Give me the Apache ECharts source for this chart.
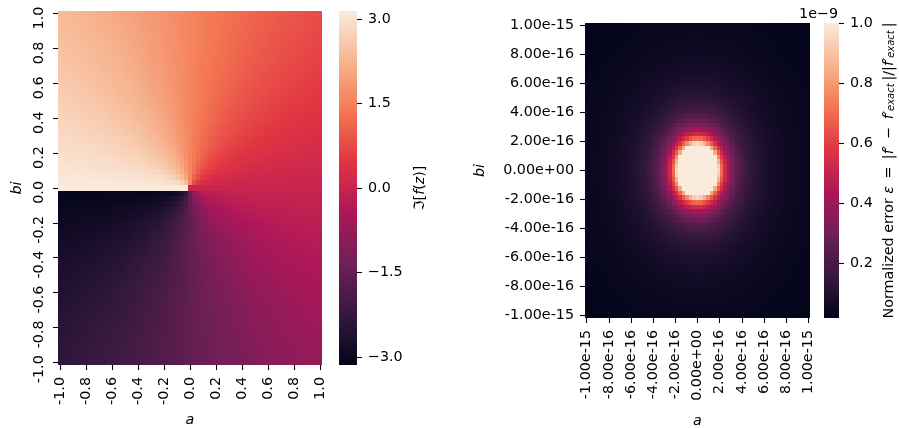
<!DOCTYPE html>
<html><head><meta charset="utf-8">
<script src="https://cdn.jsdelivr.net/npm/echarts@6/dist/echarts.min.js"></script>
<style>html,body{margin:0;padding:0;background:#fff}#c{width:899px;height:428px}</style>
</head><body><div id="c"></div>
<script>
const FONT = '"DejaVu Sans"';
const FS = 14.3;
const ROCKET = ['#03051a','#35193e','#701f57','#ad1759','#e13342','#f37651','#f6b48f','#faebdd'];

// Values, one wedge of cells (row = |b| cell, first entry at |a| = |b|).
// Phase panel, hundredths of a radian.
const PHASE_WEDGE = [
[0,0,0,0,0,0,0,0,0,0,0,0,0,0,0,0,0,0,0,0,0,0,0,0,0,0,0,0,0,0,0,0,0],
[79,46,32,24,20,17,14,12,11,10,9,8,8,7,7,6,6,6,5,5,5,5,4,4,4,4,4,4,3,3,3,3],
[79,59,46,38,32,28,24,22,20,18,17,15,14,13,12,12,11,10,10,9,9,9,8,8,8,7,7,7,7,6,6],
[79,64,54,46,40,36,32,29,27,24,23,21,20,19,17,17,16,15,14,14,13,12,12,11,11,11,10,10,10,9],
[79,67,59,52,46,42,38,35,32,30,28,26,24,23,22,21,20,19,18,17,17,16,15,15,14,14,13,13,12],
[79,69,62,56,51,46,43,39,37,34,32,30,29,27,26,24,23,22,21,21,20,19,18,18,17,17,16,15],
[79,71,64,59,54,50,46,43,41,38,36,34,32,31,29,28,27,26,24,23,23,22,21,20,20,19,19],
[79,72,66,61,57,53,49,46,44,41,39,37,35,34,32,31,30,28,27,26,25,24,24,23,22,22],
[79,73,67,63,59,55,52,49,46,44,42,40,38,36,35,33,32,31,30,29,28,27,26,25,24],
[79,73,69,64,61,57,54,51,49,46,44,42,40,39,37,36,34,33,32,31,30,29,28,27],
[79,74,69,66,62,59,56,53,51,48,46,44,43,41,39,38,37,35,34,33,32,31,30],
[79,74,70,67,63,60,57,55,52,50,48,46,45,43,41,40,39,37,36,35,34,33],
[79,75,71,67,64,62,59,56,54,52,50,48,46,45,43,42,41,39,38,37,36],
[79,75,71,68,65,63,60,58,55,53,51,50,48,46,45,43,42,41,40,39],
[79,75,72,69,66,64,61,59,57,55,53,51,49,48,46,45,44,42,41],
[79,75,72,69,67,64,62,60,58,56,54,52,51,49,48,46,45,44],
[79,76,73,70,67,65,63,61,59,57,55,53,52,50,49,48,46],
[79,76,73,70,68,66,64,62,60,58,56,55,53,52,50,49],
[79,76,73,71,69,66,64,62,61,59,57,56,54,53,51],
[79,76,74,71,69,67,65,63,61,60,58,56,55,54],
[79,76,74,72,69,67,66,64,62,60,59,57,56],
[79,76,74,72,70,68,66,64,63,61,60,58],
[79,76,74,72,70,68,67,65,63,62,60],
[79,76,74,72,71,69,67,65,64,62],
[79,76,75,73,71,69,67,66,64],
[79,77,75,73,71,69,68,66],
[79,77,75,73,71,70,68],
[79,77,75,73,72,70],
[79,77,75,73,72],
[79,77,75,74],
[79,77,75],
[79,77],
[79]];
// Error panel, thousandths of 1e-9 (saturated cells held at 1000).
const ERROR_WEDGE = [
[1000,1000,1000,1000,1000,1000,950,698,534,422,342,283,238,202,174,152,134,118,106,95,86,78,71,65,59,55,51,47,44,41,38,36,33],
[1000,1000,1000,1000,1000,924,684,526,417,339,280,236,201,174,151,133,118,105,94,85,77,71,65,59,55,51,47,44,41,38,36,33],
[1000,1000,1000,1000,855,645,503,402,329,274,231,198,171,149,132,117,104,94,85,77,70,64,59,54,50,47,43,40,38,35,33],
[1000,1000,1000,760,590,468,380,314,263,224,192,167,146,129,115,103,92,84,76,69,64,58,54,50,46,43,40,38,35,33],
[1000,834,658,526,428,353,295,250,214,185,161,142,126,112,101,91,82,75,68,63,58,53,49,46,43,40,37,35,33],
[684,561,462,384,323,274,234,202,176,155,137,122,109,98,89,80,73,67,62,57,53,49,45,42,39,37,35,33],
[475,402,342,292,251,218,190,167,147,131,117,105,95,86,78,72,66,61,56,52,48,45,42,39,37,34,32],
[349,303,263,230,201,177,157,140,125,112,101,92,83,76,70,64,59,55,51,47,44,41,38,36,34,32],
[267,236,209,185,164,147,132,118,107,97,88,80,74,68,62,58,53,50,46,43,40,38,35,33,31],
[211,189,169,152,137,123,112,101,92,84,77,71,66,61,56,52,48,45,42,40,37,35,33,31],
[171,155,140,127,116,105,96,88,81,74,68,63,59,54,51,47,44,41,39,36,34,32,30],
[141,129,118,108,99,91,83,77,71,66,61,57,53,49,46,43,40,38,36,33,32,30],
[119,109,101,93,86,79,73,68,63,58,54,51,48,44,42,39,37,35,33,31,29],
[101,94,87,80,75,69,65,60,56,52,49,46,43,40,38,36,34,32,30,29],
[87,81,76,71,66,61,57,54,50,47,44,42,39,37,35,33,31,30,28],
[76,71,67,62,58,55,51,48,45,43,40,38,36,34,32,30,29,27],
[67,63,59,55,52,49,46,44,41,39,37,35,33,31,30,28,27],
[59,56,53,50,47,44,42,40,37,35,34,32,30,29,27,26],
[53,50,47,45,42,40,38,36,34,32,31,29,28,27,25],
[47,45,43,40,38,36,35,33,31,30,28,27,26,25],
[43,41,39,37,35,33,32,30,29,28,26,25,24],
[39,37,35,34,32,31,29,28,27,26,24,23],
[35,34,32,31,29,28,27,26,25,24,23],
[32,31,30,28,27,26,25,24,23,22],
[30,28,27,26,25,24,23,22,21],
[27,26,25,24,23,22,22,21],
[25,24,23,23,22,21,20],
[23,23,22,21,20,20],
[22,21,20,20,19],
[20,20,19,18],
[19,18,18],
[18,17],
[17]];

const CELLS_PER_SIDE = 32;
const LEFT_TICKS = [-1,-0.8,-0.6,-0.4,-0.2,0,0.2,0.4,0.6,0.8,1];
const LEFT_TICK_LABELS = ['-1.0','-0.8','-0.6','-0.4','-0.2','0.0','0.2','0.4','0.6','0.8','1.0'];
const RIGHT_TICK_LABELS = ['-1.00e-15','-8.00e-16','-6.00e-16','-4.00e-16','-2.00e-16','0.00e+00','2.00e-16','4.00e-16','6.00e-16','8.00e-16','1.00e-15'];
const CB_LEFT_TICKS = [-3,-1.5,0,1.5,3];
const CB_LEFT_LABELS = ['\u22123.0','\u22121.5','0.0','1.5','3.0'];
const CB_RIGHT_TICKS = [0.2,0.4,0.6,0.8,1];
const CB_RIGHT_LABELS = ['0.2','0.4','0.6','0.8','1.0'];
const PHASE_RANGE = [-3.1416, 3.1416];
const ERROR_RANGE = [0.0167, 1];

function wedge(t, a, b) { const lo = Math.min(a, b), hi = Math.max(a, b); return t[lo][hi - lo]; }
function phaseAt(c, r) {
  const a = Math.abs(c), b = Math.abs(r);
  const th = a >= b ? wedge(PHASE_WEDGE, a, b) : 157 - wedge(PHASE_WEDGE, a, b);
  if (c >= 0 && r >= 0) return th;
  if (c < 0 && r >= 0) return 314 - th;
  if (c < 0) return th - 314;
  return -th;
}
const phaseData = [], errorData = [];
for (let c = -CELLS_PER_SIDE; c <= CELLS_PER_SIDE; c++) {
  for (let r = -CELLS_PER_SIDE; r <= CELLS_PER_SIDE; r++) {
    phaseData.push([c / CELLS_PER_SIDE, r / CELLS_PER_SIDE, phaseAt(c, r) / 100]);
    errorData.push([c / CELLS_PER_SIDE, r / CELLS_PER_SIDE, wedge(ERROR_WEDGE, Math.abs(c), Math.abs(r)) / 1000]);
  }
}
const half = 0.5 / CELLS_PER_SIDE;
const span = 1 + half;
function cell(params, api) {
  const x = api.value(0), y = api.value(1);
  const p0 = api.coord([x - half, y + half]), p1 = api.coord([x + half, y - half]);
  const x0 = Math.round(p0[0]), y0 = Math.round(p0[1]), x1 = Math.round(p1[0]), y1 = Math.round(p1[1]);
  return {type:'rect', shape:{x:x0, y:y0, width:x1 - x0, height:y1 - y0}, style:{fill:api.visual('color')}};
}
const gradientStops = ROCKET.map((color, i) => ({offset:i / (ROCKET.length - 1), color}));
function colorbar(params, api) {
  const p0 = api.coord([0, api.value(1)]), p1 = api.coord([1, api.value(0)]);
  return {type:'rect', shape:{x:p0[0], y:p0[1], width:p1[0] - p0[0], height:p1[1] - p0[1]},
    style:{fill:new echarts.graphic.LinearGradient(0, 1, 0, 0, gradientStops)}};
}

const TXT = {color:'#000', fontFamily:FONT, fontSize:FS};
const tickStyle = {show:true, length:5, inside:false, lineStyle:{color:'#000', width:1.1}};
const hiddenLine = {show:true, onZero:false, lineStyle:{color:'#fff', width:0, opacity:0}};
function valAxis(g, pos, ticks, labels, rotate, margin, name, nameGap) {
  return {
    type:'value', gridIndex:g, position:pos, min:-span, max:span,
    axisLine:hiddenLine, splitLine:{show:false},
    axisTick:Object.assign({customValues:ticks}, tickStyle),
    axisLabel:Object.assign({}, TXT, {customValues:ticks, rotate, margin,
      formatter:v => labels[ticks.indexOf(v)]}),
    name, nameLocation:'middle', nameGap, nameMoveOverlap:false,
    nameTextStyle:{color:'#000', fontFamily:FONT, fontSize:FS, fontStyle:'italic'}
  };
}
function cbAxis(g, range, ticks, labels, name, nameGap, rich) {
  return {
    type:'value', gridIndex:g, position:'right', min:range[0], max:range[1],
    axisLine:hiddenLine, splitLine:{show:false},
    axisTick:Object.assign({customValues:ticks}, tickStyle),
    axisLabel:Object.assign({}, TXT, {customValues:ticks, margin:11, padding:[2,0,0,0],
      formatter:v => labels[ticks.indexOf(v)]}),
    name, nameLocation:'middle', nameGap, nameRotate:90, nameMoveOverlap:false,
    nameTextStyle:{color:'#000', fontFamily:FONT, fontSize:FS, rich}
  };
}
const emptyX = g => ({type:'value', gridIndex:g, show:false, min:0, max:1});
const rich = {
  r:{fontFamily:FONT, fontSize:FS, color:'#000'},
  i:{fontFamily:FONT, fontSize:FS, color:'#000', fontStyle:'italic'},
  s:{fontFamily:FONT, fontSize:10, color:'#000', fontStyle:'italic', verticalAlign:'bottom', lineHeight:13}
};
const leftY = valAxis(0,'left',LEFT_TICKS,LEFT_TICK_LABELS,90,19,'bi',34);
Object.assign(leftY.axisLabel, {align:'right', verticalAlign:'middle', padding:[0,-7,0,0]});
const rightY = valAxis(1,'left',LEFT_TICKS,RIGHT_TICK_LABELS,0,11,'bi',98);
rightY.axisLabel.padding = [2,0,0,0];

const ERROR_NAME = '{r|Normalized error }{i|\u03b5}{r| \u2009=\u2009 |}{i|f\u2032}{r| \u2009\u2212\u2009 }{i|f\u2032}{s|exact}{r|\u2009|/|}{i|f\u2032}{s|exact}{r|\u2009|}';

const option = {
  backgroundColor:'#fff', animation:false,
  grid:[
    {left:58, top:11, width:264, height:354, outerBoundsMode:'none'},
    {left:585, top:23, width:225, height:295, outerBoundsMode:'none'},
    {left:339, top:11, width:18, height:354, outerBoundsMode:'none'},
    {left:824, top:23, width:15, height:295, outerBoundsMode:'none'}
  ],
  xAxis:[
    valAxis(0,'bottom',LEFT_TICKS,LEFT_TICK_LABELS,90,12,'a',48),
    valAxis(1,'bottom',LEFT_TICKS,RIGHT_TICK_LABELS,90,12,'a',96),
    emptyX(2), emptyX(3)
  ],
  yAxis:[
    leftY,
    rightY,
    cbAxis(2,PHASE_RANGE,CB_LEFT_TICKS,CB_LEFT_LABELS,'{r|\u2111[}{i|f}{r|(}{i|z}{r|)]}',56,rich),
    cbAxis(3,ERROR_RANGE,CB_RIGHT_TICKS,CB_RIGHT_LABELS,ERROR_NAME,43,rich)
  ],
  visualMap:[
    {type:'continuous', show:false, seriesIndex:0, dimension:2, min:PHASE_RANGE[0], max:PHASE_RANGE[1], inRange:{color:ROCKET}},
    {type:'continuous', show:false, seriesIndex:1, dimension:2, min:ERROR_RANGE[0], max:ERROR_RANGE[1], inRange:{color:ROCKET}}
  ],
  graphic:[{type:'text', right:61, top:7, z:10,
    style:{text:'1e\u22129', fill:'#000', font:FS+'px '+FONT, textAlign:'right'}}],
  series:[
    {type:'custom', xAxisIndex:0, yAxisIndex:0, data:phaseData, renderItem:cell, encode:{x:0,y:1}, silent:true, clip:false, progressive:0},
    {type:'custom', xAxisIndex:1, yAxisIndex:1, data:errorData, renderItem:cell, encode:{x:0,y:1}, silent:true, clip:false, progressive:0},
    {type:'custom', xAxisIndex:2, yAxisIndex:2, data:[PHASE_RANGE], renderItem:colorbar, encode:{y:[0,1]}, silent:true, clip:false},
    {type:'custom', xAxisIndex:3, yAxisIndex:3, data:[ERROR_RANGE], renderItem:colorbar, encode:{y:[0,1]}, silent:true, clip:false}
  ]
};
echarts.init(document.getElementById('c'), null, {renderer:'canvas'}).setOption(option);
</script></body></html>
